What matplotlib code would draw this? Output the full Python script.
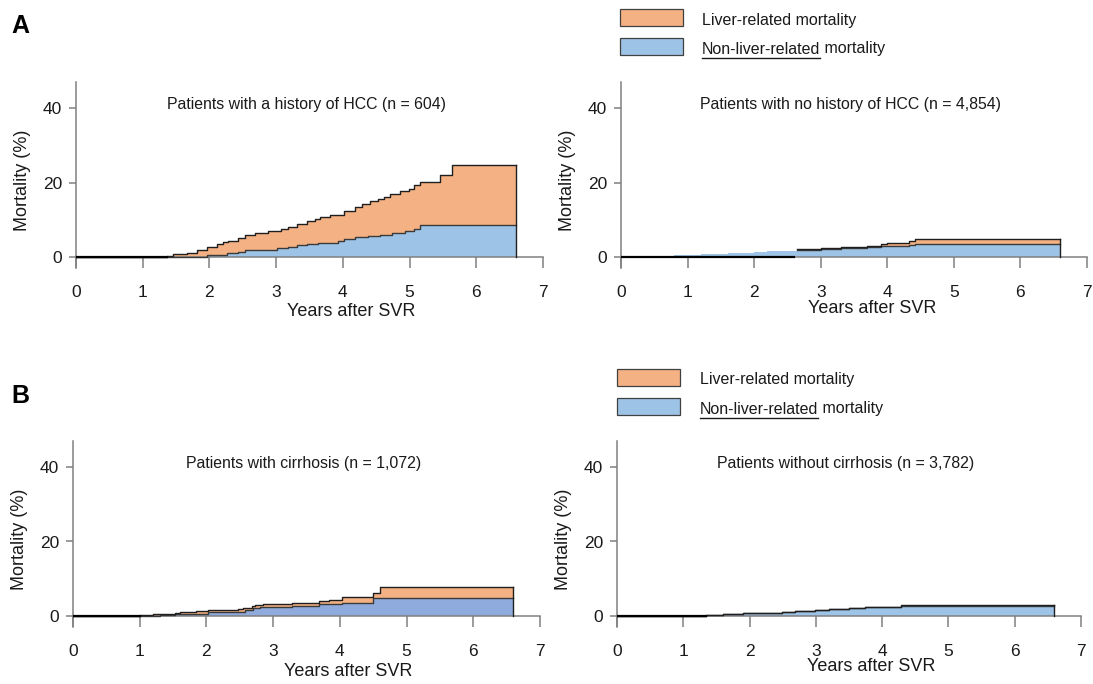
import matplotlib
matplotlib.use('Agg')
import matplotlib.pyplot as plt
from matplotlib.patches import Rectangle
from matplotlib.lines import Line2D

plt.rcParams['font.family'] = ['Liberation Sans', 'DejaVu Sans']

# cumulative mortality (%), step functions
# panel A, history of HCC
hcc_total_t = [0, 1.36, 1.46, 1.66, 1.81, 1.96, 2.11, 2.21, 2.28, 2.43, 2.53, 2.68,
               2.88, 3.08, 3.18, 3.31, 3.46, 3.58, 3.66, 3.81, 4.01, 4.18, 4.28,
               4.41, 4.53, 4.61, 4.71, 4.86, 4.99, 5.06, 5.16, 5.46, 5.63, 6.6]
hcc_total_v = [0, 0.3, 0.8, 1.2, 2.0, 2.8, 3.5, 4.1, 4.4, 5.0, 5.8, 6.4,
               7.1, 7.4, 8.0, 8.9, 9.6, 10.3, 10.8, 11.4, 12.3, 13.3, 14.2,
               14.9, 15.7, 16.2, 16.9, 17.6, 18.2, 19.3, 20.2, 22.0, 24.7, 24.7]
hcc_nonliver_t = [0, 1.96, 2.26, 2.43, 2.53, 3.01, 3.18, 3.31, 3.46, 3.63, 3.93,
                  4.01, 4.18, 4.38, 4.56, 4.73, 4.93, 5.06, 5.16, 6.6]
hcc_nonliver_v = [0, 0.6, 1.0, 1.4, 2.0, 2.4, 2.6, 3.2, 3.5, 3.8, 4.4,
                  4.9, 5.3, 5.6, 6.0, 6.5, 6.9, 7.4, 8.6, 8.6]

# panel A, no history of HCC
nohcc_total_t = [0, 0.2, 0.4, 0.6, 0.8, 1.0, 1.2, 1.4, 1.6, 1.8, 2.0, 2.2, 2.4, 2.64,
                 3.0, 3.3, 3.69, 3.91, 3.99, 4.32, 4.42, 6.59]
nohcc_total_v = [0, 0.1, 0.2, 0.35, 0.5, 0.6, 0.75, 0.9, 1.05, 1.2, 1.35, 1.5, 1.65, 2.1,
                 2.4, 2.7, 3.0, 3.4, 3.8, 4.2, 4.7, 4.7]
nohcc_nonliver_t = [0, 0.2, 0.4, 0.6, 0.8, 1.0, 1.2, 1.4, 1.6, 1.8, 2.0, 2.2, 2.4, 2.64,
                    3.0, 3.3, 3.69, 3.91, 4.32, 4.42, 6.59]
nohcc_nonliver_v = [0, 0.1, 0.2, 0.35, 0.5, 0.6, 0.75, 0.9, 1.05, 1.2, 1.35, 1.5, 1.65, 1.9,
                    2.2, 2.5, 2.8, 3.0, 3.3, 3.5, 3.5]

# panel B, cirrhosis
cirr_total_t = [0, 1.0, 1.2, 1.53, 1.6, 1.85, 2.03, 2.48, 2.55, 2.68, 2.73, 2.85,
                3.28, 3.68, 3.83, 4.03, 4.5, 4.6, 6.6]
cirr_total_v = [0, 0.2, 0.45, 0.8, 1.16, 1.34, 1.6, 1.8, 2.2, 2.6, 2.95, 3.3,
                3.6, 4.0, 4.4, 5.1, 6.2, 7.8, 7.8]
cirr_nonliver_t = [0, 1.3, 1.53, 2.03, 2.48, 2.58, 2.7, 2.8, 3.28, 3.68, 4.03, 4.5, 6.6]
cirr_nonliver_v = [0, 0.3, 0.6, 1.0, 1.2, 1.5, 2.1, 2.4, 2.8, 3.3, 3.6, 4.7, 4.7]

# panel B, no cirrhosis
nocirr_total_t = [0, 1.34, 1.6, 1.9, 2.34, 2.49, 2.69, 2.99, 3.2, 3.5, 3.74, 4.06, 4.29, 6.6]
nocirr_total_v = [0, 0.2, 0.45, 0.7, 0.9, 1.07, 1.25, 1.5, 1.8, 2.05, 2.3, 2.5, 2.95, 2.95]
nocirr_nonliver_t = [0, 1.34, 1.6, 1.9, 2.34, 2.49, 2.69, 2.99, 3.2, 3.5, 3.74, 4.06, 4.29, 6.6]
nocirr_nonliver_v = [0, 0.2, 0.45, 0.7, 0.9, 1.07, 1.25, 1.5, 1.8, 2.05, 2.3, 2.5, 2.7, 2.7]

titles = ['Patients with a history of HCC (n = 604)',
          'Patients with no history of HCC (n = 4,854)',
          'Patients with cirrhosis (n = 1,072)',
          'Patients without cirrhosis (n = 3,782)']

x_ticks = [0, 1, 2, 3, 4, 5, 6, 7]
y_ticks = [0, 20, 40]
legend_labels = ['Liver-related mortality', 'Non-liver-related', ' mortality']

ORANGE = '#F4B183'
BLUE = '#9DC3E6'
BLUE_B = '#8FAADC'
EDGE = '#1f1f1f'
AXIS = '#808080'
TXT = '#1a1a1a'

W, H = 1093, 684
fig = plt.figure(figsize=(W / 100, H / 100), dpi=100)


def px_axes(x0, y_zero, x7):
    # axes box from pixel positions of x=0, x=7 and y=0 (ylim -3..47)
    ppu = 3.725
    bottom = y_zero + 3 * ppu
    top = y_zero - 47 * ppu
    return fig.add_axes([x0 / W, 1 - bottom / H, (x7 - x0) / W, (bottom - top) / H])


def draw_panel(ax, tt, tv, nt, nv, title, blue, xlab_pos, outline_from=0.0):
    ax.fill_between(tt, 0, tv, step='post', color=ORANGE, lw=0, zorder=1)
    ax.fill_between(nt, 0, nv, step='post', color=blue, lw=0, zorder=1.5)
    i_n = next(i for i, t in enumerate(nt) if t >= outline_from)
    i_t = next(i for i, t in enumerate(tt) if t >= outline_from)
    ax.step(nt[i_n:], nv[i_n:], where='post', color='#3a3a3a', lw=1.0, zorder=3)
    ax.step(tt[i_t:], tv[i_t:], where='post', color=EDGE, lw=1.0, zorder=3.5)
    ax.plot([tt[-1], tt[-1]], [0, tv[-1]], color=EDGE, lw=1.0, zorder=3.5)
    base_end = max(tt[1], outline_from)
    ax.plot([0, base_end], [0, 0], color='black', lw=1.6, zorder=4)

    ax.set_xlim(0, 7)
    ax.set_ylim(-3, 47)
    ax.set_xticks(x_ticks)
    ax.set_yticks(y_ticks)
    for s in ['top', 'right']:
        ax.spines[s].set_visible(False)
    ax.spines['bottom'].set_position(('data', 0))
    for s in ['left', 'bottom']:
        ax.spines[s].set_color(AXIS)
        ax.spines[s].set_linewidth(1.1)
    ax.tick_params(axis='x', length=8, width=1.1, color=AXIS, pad=12,
                   labelsize=12.5, labelcolor=TXT)
    ax.tick_params(axis='y', length=5, width=1.1, color=AXIS, pad=5,
                   labelsize=12.5, labelcolor=TXT)
    ax.set_xlabel('Years after SVR', fontsize=13, color=TXT)
    ax.xaxis.set_label_coords(xlab_pos[0], xlab_pos[1])
    ax.set_ylabel('Mortality (%)', fontsize=13, color=TXT)
    ax.yaxis.set_label_coords(-0.097, 0.474)
    ax.text(3.45, 41, title, ha='center', va='center', fontsize=11.4, color=TXT)
    ax.patch.set_alpha(0)


axA1 = px_axes(76, 257, 543)
axA2 = px_axes(621, 257, 1087)
axB1 = px_axes(73, 616, 540)
axB2 = px_axes(617, 616, 1081)

draw_panel(axA1, hcc_total_t, hcc_total_v, hcc_nonliver_t, hcc_nonliver_v, titles[0],
           BLUE, (0.59, -0.187))
draw_panel(axA2, nohcc_total_t, nohcc_total_v, nohcc_nonliver_t, nohcc_nonliver_v, titles[1],
           BLUE, (0.54, -0.171), outline_from=2.6)
draw_panel(axB1, cirr_total_t, cirr_total_v, cirr_nonliver_t, cirr_nonliver_v, titles[2],
           BLUE_B, (0.589, -0.192))
draw_panel(axB2, nocirr_total_t, nocirr_total_v, nocirr_nonliver_t, nocirr_nonliver_v, titles[3],
           BLUE, (0.547, -0.165))

fig.text(11 / W, 1 - 26 / H, 'A', fontsize=18, fontweight='bold', va='center', color='black')
fig.text(11 / W, 1 - 396 / H, 'B', fontsize=18, fontweight='bold', va='center', color='black')


def draw_legend(bx, by1, by2, tx, ty1, ty2, uy):
    for by, col in [(by1, ORANGE), (by2, BLUE)]:
        fig.add_artist(Rectangle((bx / W, 1 - (by + 17) / H), 63 / W, 17 / H,
                                 transform=fig.transFigure, facecolor=col,
                                 edgecolor='#404040', lw=0.9))
    fig.text(tx / W, 1 - ty1 / H, legend_labels[0], fontsize=11.5, va='center', color=TXT)
    t1 = fig.text(tx / W, 1 - ty2 / H, legend_labels[1], fontsize=11.5, va='center', color=TXT)
    fig.canvas.draw()
    bb = t1.get_window_extent()
    fig.text(bb.x1 / W, 1 - ty2 / H, legend_labels[2], fontsize=11.5, va='center', color=TXT)
    fig.add_artist(Line2D([bb.x0 / W, bb.x1 / W], [1 - uy / H, 1 - uy / H],
                          transform=fig.transFigure, color=TXT, lw=1.0))


draw_legend(620, 9, 38, 702, 20, 49, 58)
draw_legend(617, 369, 398, 700, 379.5, 409, 418)

fig.savefig('out.png', dpi=100)
